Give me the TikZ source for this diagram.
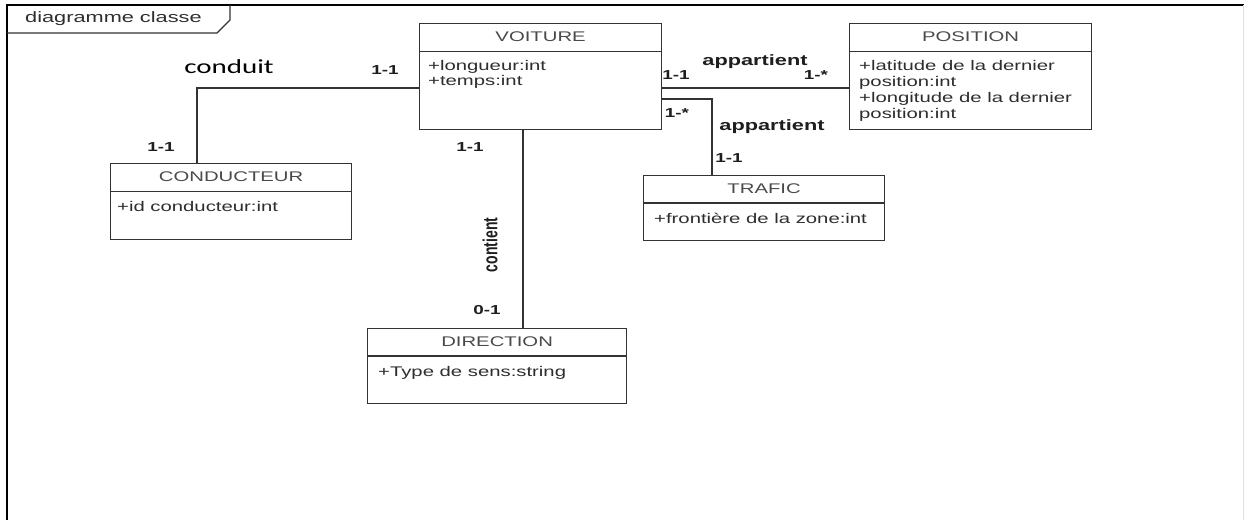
\documentclass[tikz,border=0pt]{standalone}
\usepackage{fontspec}
\usepackage{graphicx}
% widened Arial-metric face used for all diagram text
\newfontfamily\uifont[FakeStretch=1.45]{Liberation Sans}
\newfontfamily\uifontplain{Liberation Sans}
\newfontfamily\notefont[FakeStretch=1.45]{Carlito}
\definecolor{boxline}{HTML}{333333}
\definecolor{titlegray}{HTML}{4A4A4A}
\definecolor{attrgray}{HTML}{2E2E2E}
\definecolor{labelink}{HTML}{1E1E1E}

\begin{document}
\begin{tikzpicture}[x=1pt,y=-1pt,
  classbox/.style={draw=boxline, line width=1.2pt, rectangle, inner sep=0pt,
                   anchor=north west, fill=white},
  headline/.style={draw=boxline, line width=1.1pt},
  classname/.style={font=\uifont\fontsize{14}{16}\selectfont, text=titlegray, inner sep=0pt},
  attr/.style={font=\uifont\fontsize{14}{16}\selectfont, text=attrgray, inner sep=0pt, anchor=base west},
  mult/.style={font=\uifont\bfseries\fontsize{13}{15}\selectfont, text=labelink, inner sep=0pt},
  assoc/.style={font=\uifont\bfseries\fontsize{15}{17}\selectfont, text=labelink, inner sep=0pt},
  link/.style={draw=boxline, line width=1.2pt},
  frameline/.style={draw=black, line width=1.6pt}]

\useasboundingbox (0,0) rectangle (1244,520);
\fill[white] (0,0) rectangle (1244,520);

% ---- frame with its name tab
\draw[frameline] (1244,5) -- (7,5) -- (7,520);
\draw[draw=black!12, line width=0.8pt] (1243,5) -- (1243,520);
\draw[draw=boxline, line width=1.1pt] (7,33) -- (217,33) -- (230,20) -- (230,5);
\node[font=\uifont\fontsize{15}{17}\selectfont, text=attrgray, inner sep=0pt, anchor=base west]
  (frametitle) at (25,22) {diagramme classe};

% ---- classes
\node[classbox, minimum width=242pt, minimum height=106pt] (voiture) at (419,23) {};
\draw[headline] ([yshift=-28.5pt]voiture.north west) -- ([yshift=-28.5pt]voiture.north east);
\node[classname] (voitureT) at ([yshift=-14pt]voiture.north) {VOITURE};
\node[attr] (voitureA) at ([xshift=9pt,yshift=-47pt]voiture.north west) {+longueur:int};
\node[attr] (voitureB) at ([xshift=9pt,yshift=-62pt]voiture.north west) {+temps:int};

\node[classbox, minimum width=242pt, minimum height=106pt] (position) at (849,23) {};
\draw[headline] ([yshift=-28.5pt]position.north west) -- ([yshift=-28.5pt]position.north east);
\node[classname] (positionT) at ([yshift=-14pt]position.north) {POSITION};
\node[attr] (positionA) at ([xshift=10pt,yshift=-47pt]position.north west) {+latitude de la dernier};
\node[attr] (positionB) at ([xshift=10pt,yshift=-63pt]position.north west) {position:int};
\node[attr] (positionC) at ([xshift=10pt,yshift=-79pt]position.north west) {+longitude de la dernier};
\node[attr] (positionD) at ([xshift=10pt,yshift=-95pt]position.north west) {position:int};

\node[classbox, minimum width=241pt, minimum height=76pt] (conducteur) at (110,163) {};
\draw[headline] ([yshift=-28.5pt]conducteur.north west) -- ([yshift=-28.5pt]conducteur.north east);
\node[classname] (conducteurT) at ([yshift=-14pt]conducteur.north) {CONDUCTEUR};
\node[attr] (conducteurA) at ([xshift=7pt,yshift=-48pt]conducteur.north west) {+id conducteur:int};

\node[classbox, minimum width=241pt, minimum height=65pt] (trafic) at (643,175) {};
\draw[headline] ([yshift=-28pt]trafic.north west) -- ([yshift=-28pt]trafic.north east);
\node[classname] (traficT) at ([yshift=-13.5pt]trafic.north) {TRAFIC};
\node[attr] (traficA) at ([xshift=11pt,yshift=-48pt]trafic.north west) {+frontière de la zone:int};

\node[classbox, minimum width=259pt, minimum height=75pt] (direction) at (367,328) {};
\draw[headline] ([yshift=-28pt]direction.north west) -- ([yshift=-28pt]direction.north east);
\node[classname] (directionT) at ([yshift=-13.5pt]direction.north) {DIRECTION};
\node[attr] (directionA) at ([xshift=11pt,yshift=-48pt]direction.north west) {+Type de sens:string};

% ---- associations
\draw[link] ([yshift=-65pt]voiture.north west) -| ([xshift=87pt]conducteur.north west);
\draw[link] ([yshift=-65pt]voiture.north east) -- ([yshift=-65pt]position.north west);
\draw[link] ([yshift=-76pt]voiture.north east) -| ([xshift=69pt]trafic.north west);
\draw[link] ([xshift=104pt]voiture.south west) -- ([xshift=156pt]direction.north west);

% ---- association names
\node[font=\notefont\fontsize{20}{24}\selectfont, text=black, inner sep=0pt] (conduitL) at (229,67) {conduit};
\node[assoc] (appartientA) at (755,62) {appartient};
\node[assoc] (appartientB) at (772,127) {appartient};
\node[font=\uifontplain\bfseries\fontsize{14}{16}\selectfont, text=labelink, inner sep=0pt, rotate=90]
  (contientL) at (490,245) {\scalebox{1}[1.45]{contient}};

% ---- multiplicities
\node[mult] (m1) at (385,70) {1-1};
\node[mult] (m2) at (161,147) {1-1};
\node[mult] (m3) at (676,75) {1-1};
\node[mult] (m4) at (816,75) {1-*};
\node[mult] (m5) at (677,113) {1-*};
\node[mult] (m6) at (729,158) {1-1};
\node[mult] (m7) at (470,147) {1-1};
\node[mult] (m8) at (487,310) {0-1};

\end{tikzpicture}
\end{document}
